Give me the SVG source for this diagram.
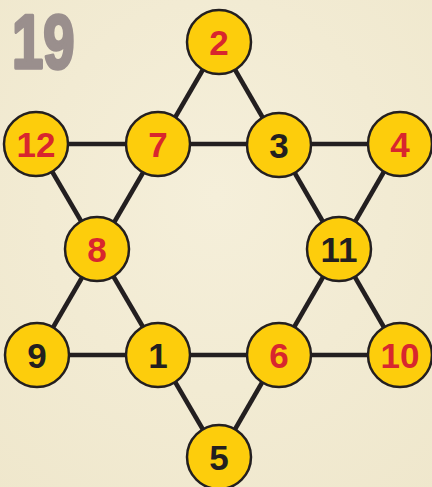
<svg xmlns="http://www.w3.org/2000/svg" width="432" height="487" viewBox="0 0 432 487">
<defs>
<radialGradient id="bg" cx="0.5" cy="0.4" r="0.8">
<stop offset="0" stop-color="#F5EFDA"/>
<stop offset="1" stop-color="#EFE7CC"/>
</radialGradient>
</defs>
<style>
.edge{stroke:#231F20;stroke-width:4.5;fill:none}
.node circle{fill:#FDCD0C;stroke:#231F20;stroke-width:2.5}
.node text{font-family:"Liberation Sans",Arial,sans-serif;font-weight:bold;font-size:35px;text-anchor:middle}
.red{fill:#D8262E}
.blk{fill:#231F20}
</style>
<rect width="432" height="487" fill="url(#bg)"/>
<g id="title" transform="translate(12,68) scale(0.74,1)">
<text x="0" y="0" font-family="Liberation Sans,Arial,sans-serif" font-weight="bold" font-size="76" fill="#9A8F8D" stroke="#9A8F8D" stroke-width="3.5" stroke-linejoin="round">19</text>
</g>
<g id="connectors">
<line class="edge" x1="219" y1="42" x2="37" y2="355"/>
<line class="edge" x1="219" y1="42" x2="400" y2="355"/>
<line class="edge" x1="37" y1="355" x2="400" y2="355"/>
<line class="edge" x1="36" y1="144" x2="400" y2="144"/>
<line class="edge" x1="36" y1="144" x2="219" y2="457"/>
<line class="edge" x1="400" y1="144" x2="219" y2="457"/>
</g>
<g id="n2" class="node"><circle cx="219" cy="42" r="32"/><text class="red" x="219" y="55">2</text></g>
<g id="n12" class="node"><circle cx="36" cy="144" r="32"/><text class="red" x="36" y="157">12</text></g>
<g id="n7" class="node"><circle cx="158" cy="144" r="32"/><text class="red" x="158" y="157">7</text></g>
<g id="n3" class="node"><circle cx="279" cy="145" r="32"/><text class="blk" x="279" y="158">3</text></g>
<g id="n4" class="node"><circle cx="400" cy="144" r="32"/><text class="red" x="400" y="157">4</text></g>
<g id="n8" class="node"><circle cx="97" cy="249" r="32"/><text class="red" x="97" y="262">8</text></g>
<g id="n11" class="node"><circle cx="339" cy="249" r="32"/><text class="blk" x="339" y="262">11</text></g>
<g id="n9" class="node"><circle cx="37" cy="355" r="32"/><text class="blk" x="37" y="368">9</text></g>
<g id="n1" class="node"><circle cx="158" cy="355" r="32"/><text class="blk" x="158" y="368">1</text></g>
<g id="n6" class="node"><circle cx="279" cy="355" r="32"/><text class="red" x="279" y="368">6</text></g>
<g id="n10" class="node"><circle cx="400" cy="355" r="32"/><text class="red" x="400" y="368">10</text></g>
<g id="n5" class="node"><circle cx="219" cy="457" r="32"/><text class="blk" x="219" y="470">5</text></g>
</svg>
